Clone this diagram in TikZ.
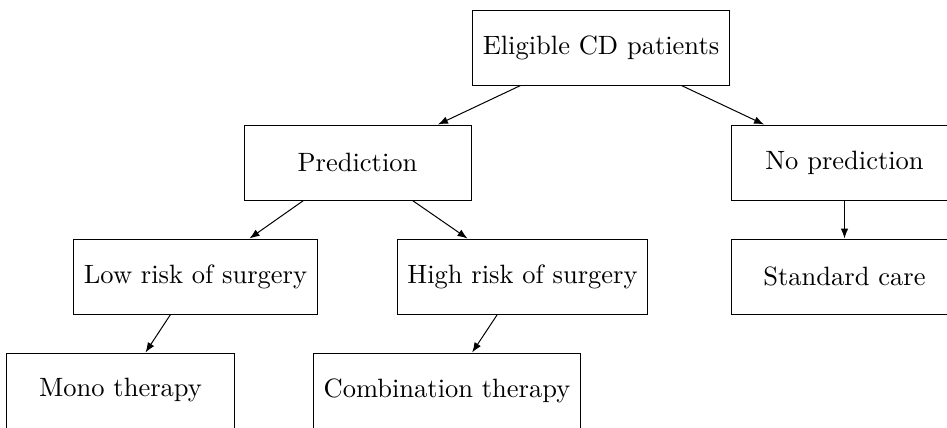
\documentclass[tikz,border=0pt]{standalone}
\usetikzlibrary{arrows.meta}
\begin{document}
\begin{tikzpicture}[x=0.4pt,y=-0.4pt,
  box/.style={draw, rectangle, minimum width=90.8pt, minimum height=30pt, inner xsep=4pt, align=center, font=\fontsize{10.6}{12.7}\selectfont},
  arr/.style={-{Latex[length=4pt,width=3pt]}}]
\useasboundingbox (0,0) rectangle (947,427);
\clip (0,0) rectangle (947,427);
\node[box] (e) at (601,47.5) {Eligible CD patients};
\node[box] (p) at (357.5,162.5) {Prediction};
\node[box] (np) at (844.5,162.5) {No prediction};
\node[box] (low) at (195.5,276.5) {Low risk of surgery};
\node[box] (high) at (522.5,276.5) {High risk of surgery};
\node[box] (sc) at (844.5,276.5) {Standard care};
\node[box] (mono) at (120.5,390.5) {Mono therapy};
\node[box] (comb) at (447,390.5) {Combination therapy};
\draw[arr] (e) -- (p);
\draw[arr] (e) -- (np);
\draw[arr] (p) -- (low);
\draw[arr] (p) -- (high);
\draw[arr] (np) -- (sc);
\draw[arr] (low) -- (mono);
\draw[arr] (high) -- (comb);
\end{tikzpicture}
\end{document}
